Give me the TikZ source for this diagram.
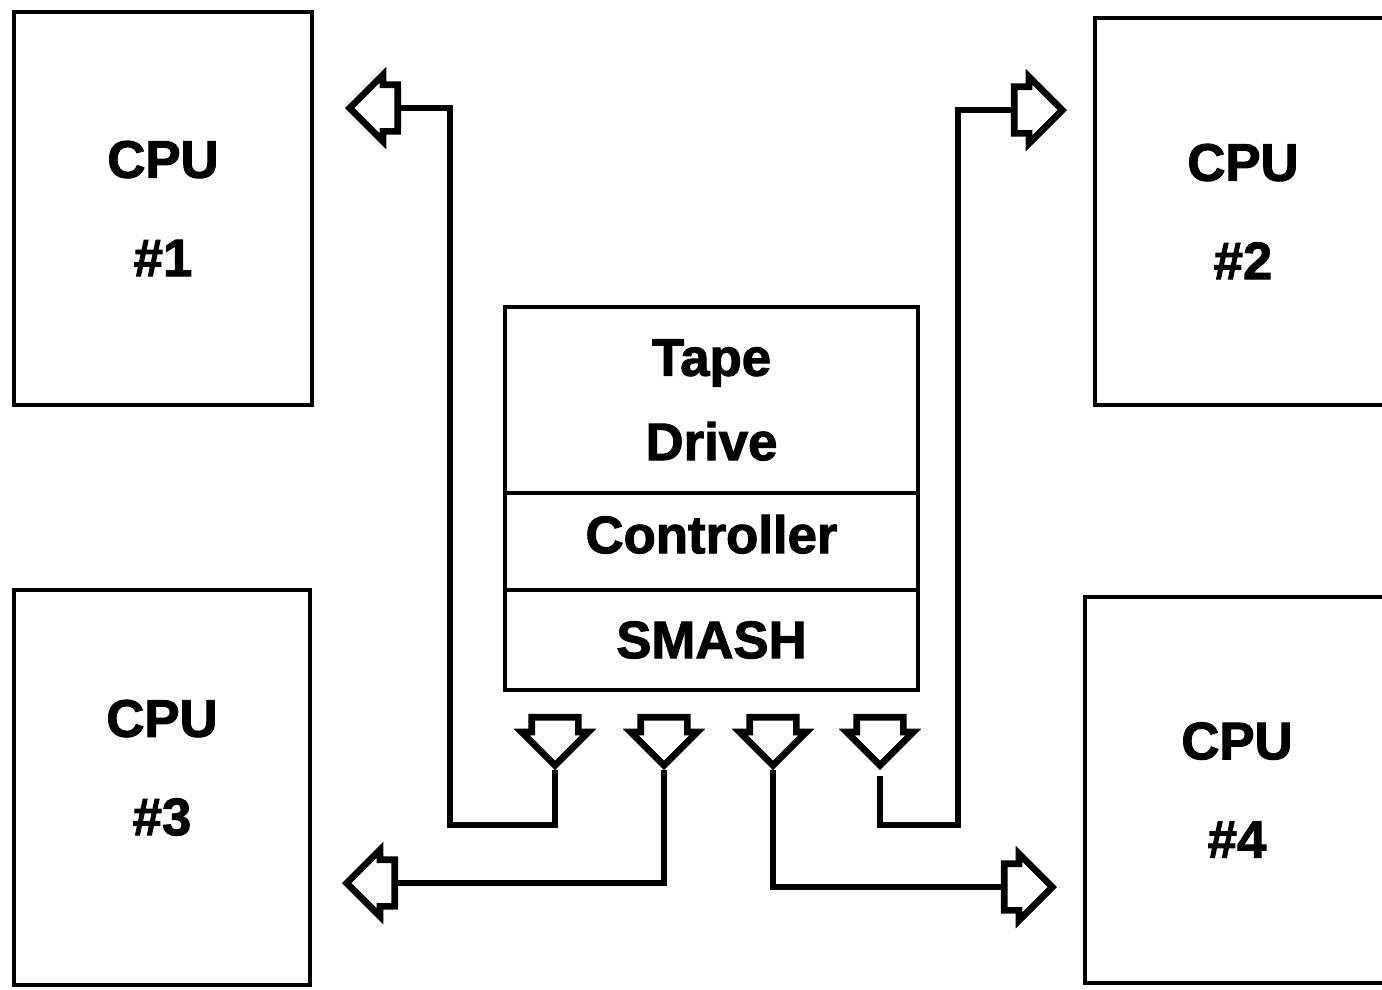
\documentclass[tikz,border=0pt]{standalone}
\usepackage{fontspec}
\newfontfamily\heavyfont{Liberation Sans}[BoldFeatures={FakeBold=2}]
\usetikzlibrary{positioning,shapes.arrows}

\tikzset{
  unit/.style={draw, line width=1.4pt, inner sep=0pt, outer sep=0pt,
    align=center, font=\heavyfont\bfseries\fontsize{15}{28}\selectfont},
  layer/.style={unit, minimum width=4.13cm},
  port/.style={single arrow, draw, line width=1.9pt, fill=white,
    inner xsep=0pt, inner ysep=0.2cm, single arrow head extend=0.1cm,
    single arrow tip angle=90, minimum height=0.48cm},
  link/.style={line width=1.9pt}
}

\begin{document}
\begin{tikzpicture}
  \useasboundingbox (0,0) rectangle (13.82,-9.89);

  % --- CPU boxes ---
  \node[unit, minimum width=2.98cm, minimum height=3.93cm] (cpuA) at (1.63,-2.085) {CPU\\\#1};
  \node[unit, minimum width=2.96cm, minimum height=3.87cm] (cpuB) at (12.43,-2.115) {CPU\\\#2};
  \node[unit, minimum width=2.96cm, minimum height=3.95cm, text depth=0.4cm] (cpuC) at (1.62,-7.875) {CPU\\\#3};
  \node[unit, minimum width=3.04cm, minimum height=3.86cm] (cpuD) at (12.37,-7.90) {CPU\\\#4};

  % --- Tape drive stack ---
  \node[layer, minimum height=1.86cm] (tape) at (7.115,-4.00) {Tape\\[-4pt]Drive};
  \node[layer, minimum height=0.97cm, text depth=0.15cm, below=0pt of tape] (ctrl) {Controller};
  \node[layer, minimum height=1.00cm, below=0pt of ctrl] (smash) {SMASH};

  % --- Ports under the stack ---
  \foreach \x [count=\i] in {5.55,6.64,7.73,8.80}
    \node[port, rotate=-90, anchor=tip] (d\i) at (\x,-7.70) {};

  % --- Ports at the CPUs ---
  \node[port, rotate=180, anchor=tip] (pA) at (3.45,-1.08) {};
  \node[port, anchor=tip] (pB) at (10.67,-1.10) {};
  \node[port, rotate=180, anchor=tip] (pC) at (3.42,-8.83) {};
  \node[port, anchor=tip] (pD) at (10.57,-8.87) {};

  % --- Lines ---
  \coordinate (bendA) at (4.50,-8.25);
  \coordinate (bendB) at (9.58,-8.25);
  \draw[link] (d1.tip) |- (bendA) |- (pA.tail);
  \draw[link] (d2.tip) |- (pC.tail);
  \draw[link] (d3.tip) |- (pD.tail);
  \draw[link, shorten <=0.06cm] (d4.tip) |- (bendB) |- (pB.tail);
\end{tikzpicture}
\end{document}
